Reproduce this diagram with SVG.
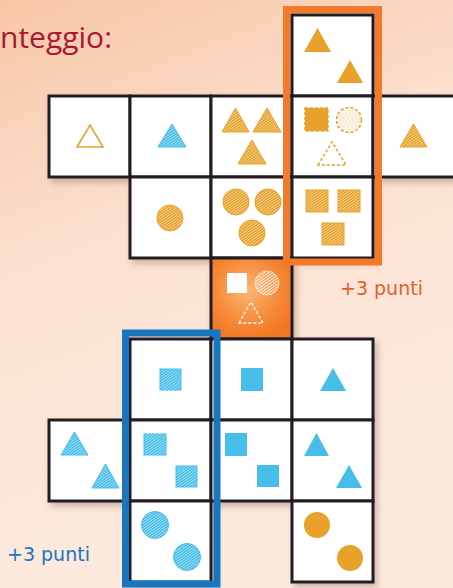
<svg xmlns="http://www.w3.org/2000/svg" width="453" height="588" viewBox="0 0 453 588">
<defs>
<linearGradient id="bg" x1="0" y1="0" x2="0.3" y2="1">
<stop offset="0" stop-color="#F8C6A6"/>
<stop offset="0.45" stop-color="#FCE2D2"/>
<stop offset="1" stop-color="#FDEADF"/>
</linearGradient>
<radialGradient id="og" cx="0.45" cy="0.4" r="0.65">
<stop offset="0" stop-color="#FBB874"/>
<stop offset="0.6" stop-color="#F68A3A"/>
<stop offset="1" stop-color="#F37620"/>
</radialGradient>
<pattern id="hO" width="2.2" height="2.2" patternUnits="userSpaceOnUse" patternTransform="rotate(-35)">
<rect width="2.2" height="2.2" fill="#E8A22B"/><rect width="2.2" height="0.7" fill="#fff" opacity="0.6"/>
</pattern>
<pattern id="hB" width="2.2" height="2.2" patternUnits="userSpaceOnUse" patternTransform="rotate(-35)">
<rect width="2.2" height="2.2" fill="#47BEEA"/><rect width="2.2" height="0.7" fill="#fff" opacity="0.6"/>
</pattern>
<pattern id="hL" width="2.2" height="2.2" patternUnits="userSpaceOnUse" patternTransform="rotate(-35)">
<rect width="2.2" height="2.2" fill="#fff"/><rect width="2.2" height="0.8" fill="#E8A22B" opacity="0.4"/>
</pattern>
<pattern id="hW" width="2.4" height="2.4" patternUnits="userSpaceOnUse" patternTransform="rotate(-35)">
<rect width="2.4" height="1.1" fill="#fff" opacity="0.85"/>
</pattern>
<filter id="sh" x="-10%" y="-10%" width="130%" height="130%">
<feDropShadow dx="3" dy="4" stdDeviation="3" flood-color="#5a3a2a" flood-opacity="0.3"/>
</filter>
</defs>
<style>
.tile{fill:#fff;stroke:#231F20;stroke-width:3}
.so{fill:#E8A22B}
.sb{fill:#47BEEA}
.ho{fill:url(#hO);stroke:#E8A22B;stroke-width:1}
.hb{fill:url(#hB);stroke:#47BEEA;stroke-width:1}
.dash{stroke:#E8A22B;stroke-width:1.5;stroke-dasharray:3 2}
.lbl{font-family:"DejaVu Sans",sans-serif;font-size:19px}
</style>
<rect width="453" height="588" fill="url(#bg)"/>
<text x="0" y="48" font-family="Open Sans, sans-serif" font-size="30" fill="#A8182F">nteggio:</text>

<g filter="url(#sh)">
<g id="tile-top">
<rect class="tile" x="292" y="15" width="81" height="81"/>
<polygon class="so" points="304,52 317.5,28 331,52"/>
<polygon class="so" points="337,83 350,60 363,83"/>
</g>
<g id="tile-r1c1">
<rect class="tile" x="49" y="96" width="81" height="81"/>
<polygon points="77,147 90,125 103,147" fill="none" stroke="#E8A22B" stroke-width="1.6"/>
</g>
<g id="tile-r1c2">
<rect class="tile" x="130" y="96" width="81" height="81"/>
<polygon class="hb" points="158,147 172,124 186,147"/>
</g>
<g id="tile-r1c3">
<rect class="tile" x="211" y="96" width="81" height="81"/>
<polygon class="ho" points="222,132 235.5,108 249,132"/>
<polygon class="ho" points="253,132 267,108 281,132"/>
<polygon class="ho" points="238,164 252,140 266,164"/>
</g>
<g id="tile-r1c4">
<rect class="tile" x="292" y="96" width="81" height="81"/>
<rect x="305" y="108" width="23" height="23" fill="#E8A22B" class="dash"/>
<circle cx="349" cy="120" r="12.5" fill="url(#hL)" class="dash"/>
<polygon points="318,165 332,142 346,165" fill="none" class="dash"/>
</g>
<g id="tile-r1c5">
<rect class="tile" x="373" y="96" width="84" height="81"/>
<polygon class="ho" points="400,147 413.5,124 427,147"/>
</g>
<g id="tile-r2c2">
<rect class="tile" x="130" y="177" width="81" height="81"/>
<circle class="ho" cx="170" cy="218" r="13"/>
</g>
<g id="tile-r2c3">
<rect class="tile" x="211" y="177" width="81" height="81"/>
<circle class="ho" cx="236" cy="202" r="13"/>
<circle class="ho" cx="268" cy="202" r="13"/>
<circle class="ho" cx="252" cy="233" r="13"/>
</g>
<g id="tile-r2c4">
<rect class="tile" x="292" y="177" width="81" height="81"/>
<rect class="ho" x="306" y="190" width="22" height="22"/>
<rect class="ho" x="338" y="190" width="22" height="22"/>
<rect class="ho" x="322" y="223" width="22" height="22"/>
</g>
<g id="tile-center">
<rect x="211" y="258" width="81" height="81" fill="url(#og)" stroke="#231F20" stroke-width="3"/>
<rect x="227" y="273" width="20" height="20" fill="#fff"/>
<circle cx="267" cy="283" r="12" fill="url(#hW)" stroke="#fff" stroke-width="0.8" stroke-opacity="0.7"/>
<polygon points="239,323 251,302 263,323" fill="none" stroke="#fff" stroke-width="1.3" stroke-dasharray="3 2"/>
</g>
<g id="tile-r4c2">
<rect class="tile" x="130" y="339" width="81" height="81"/>
<rect class="hb" x="160" y="369" width="21" height="21"/>
</g>
<g id="tile-r4c3">
<rect class="tile" x="211" y="339" width="81" height="81"/>
<rect class="sb" x="241" y="368" width="22" height="23"/>
</g>
<g id="tile-r4c4">
<rect class="tile" x="292" y="339" width="81" height="81"/>
<polygon class="sb" points="320,391 333,368 346,391"/>
</g>
<g id="tile-r5c1">
<rect class="tile" x="49" y="420" width="81" height="81"/>
<polygon class="hb" points="61,455 74.5,432 88,455"/>
<polygon class="hb" points="92,488 105.5,464 119,488"/>
</g>
<g id="tile-r5c2">
<rect class="tile" x="130" y="420" width="81" height="81"/>
<rect class="hb" x="144" y="434" width="22" height="21"/>
<rect class="hb" x="176" y="466" width="21" height="21"/>
</g>
<g id="tile-r5c3">
<rect class="tile" x="211" y="420" width="81" height="81"/>
<rect class="sb" x="225" y="433" width="22" height="23"/>
<rect class="sb" x="257" y="465" width="22" height="22"/>
</g>
<g id="tile-r5c4">
<rect class="tile" x="292" y="420" width="81" height="81"/>
<polygon class="sb" points="304,456 316.5,433 329,456"/>
<polygon class="sb" points="336,488 349,465 362,488"/>
</g>
<g id="tile-r6c2">
<rect class="tile" x="130" y="501" width="81" height="81"/>
<circle class="hb" cx="155" cy="525" r="13.5"/>
<circle class="hb" cx="187" cy="557" r="13.5"/>
</g>
<g id="tile-r6c4">
<rect class="tile" x="292" y="501" width="81" height="81"/>
<circle class="so" cx="317" cy="525" r="13"/>
<circle class="so" cx="350" cy="558" r="13"/>
</g>
</g>

<g id="highlight-orange">
<rect x="286.5" y="9.5" width="92" height="252.5" fill="none" stroke="#F37A2B" stroke-width="7"/>
<text class="lbl" x="340" y="295" fill="#E0622A">+3 punti</text>
</g>
<g id="highlight-blue">
<rect x="125.5" y="333" width="91.5" height="251" fill="none" stroke="#1776BE" stroke-width="7"/>
<text class="lbl" x="7" y="561" fill="#1776BE" font-size="19.5">+3 punti</text>
</g>
</svg>
